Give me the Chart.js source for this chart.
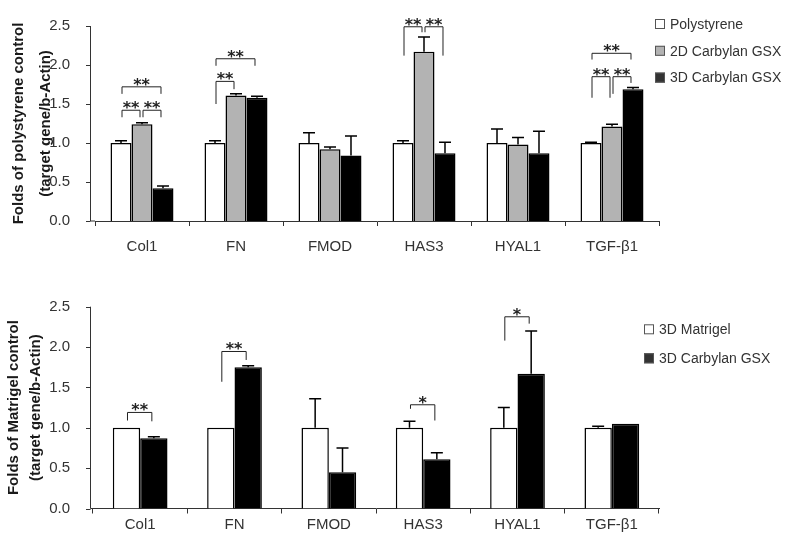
<!DOCTYPE html>
<html>
<head>
<meta charset="utf-8">
<script src="https://cdn.jsdelivr.net/npm/chart.js@4"></script>
<style>
  body { margin: 0; background: #fff; }
  canvas { display: block; }
</style>
</head>
<body>
<canvas id="topChart" width="800" height="270"></canvas>
<canvas id="bottomChart" width="800" height="277"></canvas>
<script>
// genes on the x axis (same for both panels)
var genes = ["Col1", "FN", "FMOD", "HAS3", "HYAL1", "TGF-\u03b21"];
var yTicks = [0, 0.5, 1.0, 1.5, 2.0, 2.5];

// top panel: fold of polystyrene control
var polystyrene = [1.0, 1.0, 1.0, 1.0, 1.0, 1.0];
var polystyreneErr = [0.03, 0.03, 0.13, 0.03, 0.18, 0.01];
var gsx2d = [1.24, 1.61, 0.92, 2.17, 0.98, 1.21];
var gsx2dErr = [0.02, 0.02, 0.03, 0.19, 0.09, 0.03];
var gsx3d = [0.42, 1.58, 0.84, 0.87, 0.87, 1.69];
var gsx3dErr = [0.03, 0.02, 0.25, 0.14, 0.28, 0.02];

// bottom panel: fold of matrigel control
var matrigel = [1.0, 1.0, 1.0, 1.0, 1.0, 1.0];
var matrigelErr = [0, 0, 0.36, 0.08, 0.25, 0.02];
var gsx3dM = [0.87, 1.75, 0.45, 0.61, 1.67, 1.05];
var gsx3dMErr = [0.02, 0.02, 0.30, 0.08, 0.53, 0];

// significance brackets: [gene index, bar a, bar b, bracket y, leg a end, leg b end, label]
var topSig = [
  [0, 0, 1, 1.42, 1.33, 1.33, "**"],
  [0, 1, 2, 1.42, 1.33, 1.33, "**"],
  [0, 0, 2, 1.72, 1.63, 1.63, "**"],
  [1, 0, 1, 1.79, 1.50, 1.69, "**"],
  [1, 0, 2, 2.08, 1.99, 1.99, "**"],
  [3, 0, 1, 2.49, 2.12, 2.42, "**"],
  [3, 1, 2, 2.49, 2.42, 2.12, "**"],
  [5, 0, 1, 1.85, 1.58, 1.58, "**"],
  [5, 1, 2, 1.85, 1.63, 1.77, "**"],
  [5, 0, 2, 2.15, 2.07, 2.07, "**"]
];
var bottomSig = [
  [0, 0, 1, 1.19, 1.09, 1.08, "**"],
  [1, 0, 1, 1.945, 1.57, 1.84, "**"],
  [3, 0, 1, 1.285, 1.235, 1.09, "*"],
  [4, 0, 1, 2.375, 2.08, 2.29, "*"]
];

Chart.defaults.font.family = '"Liberation Sans", Arial, sans-serif';
Chart.defaults.color = "#333";

// error bars, brackets, axis lines and legend
var extras = {
  id: "extras",
  afterDraw: function (chart, args, opts) {
    var ctx = chart.ctx;
    var y = chart.scales.y;
    var area = chart.chartArea;
    ctx.save();

    // y axis line sits a few px left of the first category
    var ax = area.left - opts.axisGap;
    ctx.strokeStyle = "#333";
    ctx.lineWidth = 1;
    ctx.beginPath();
    ctx.moveTo(ax + 0.5, y.getPixelForValue(yTicks[yTicks.length - 1]));
    ctx.lineTo(ax + 0.5, area.bottom);
    ctx.lineTo(area.left, area.bottom);
    yTicks.forEach(function (t) {
      var py = Math.round(y.getPixelForValue(t)) + 0.5;
      ctx.moveTo(ax - 4, py);
      ctx.lineTo(ax + 0.5, py);
    });
    ctx.stroke();

    // error bars (upper only)
    ctx.strokeStyle = "#000";
    ctx.lineWidth = 1.5;
    chart.data.datasets.forEach(function (ds, i) {
      chart.getDatasetMeta(i).data.forEach(function (bar, j) {
        var e = ds.errors[j];
        if (!e) return;
        var top = y.getPixelForValue(ds.data[j] + e);
        ctx.beginPath();
        ctx.moveTo(bar.x, bar.y);
        ctx.lineTo(bar.x, top);
        ctx.moveTo(bar.x - 6, top);
        ctx.lineTo(bar.x + 6, top);
        ctx.stroke();
      });
    });

    // significance brackets
    ctx.strokeStyle = "#222";
    ctx.lineWidth = 1;
    ctx.fillStyle = "#222";
    ctx.font = 'bold 16px "DejaVu Sans", sans-serif';
    ctx.textAlign = "center";
    ctx.textBaseline = "alphabetic";
    opts.brackets.forEach(function (b) {
      var xa = chart.getDatasetMeta(b[1]).data[b[0]].x + 1;
      var xb = chart.getDatasetMeta(b[2]).data[b[0]].x - 2;
      var py = y.getPixelForValue(b[3]);
      ctx.beginPath();
      ctx.moveTo(xa, y.getPixelForValue(b[4]));
      ctx.lineTo(xa, py);
      ctx.lineTo(xb, py);
      ctx.lineTo(xb, y.getPixelForValue(b[5]));
      ctx.stroke();
      ctx.fillText(b[6], (xa + xb) / 2, py + 3);
    });

    // legend
    ctx.font = "14px " + Chart.defaults.font.family;
    ctx.textAlign = "left";
    ctx.textBaseline = "middle";
    chart.data.datasets.forEach(function (ds, i) {
      var ly = opts.legendTop + i * opts.legendStep;
      var lx = area.right + opts.legendDx;
      ctx.fillStyle = ds.backgroundColor === "#000" ? "#333" : ds.backgroundColor;
      ctx.fillRect(lx, ly - 5, 10, 10);
      ctx.strokeStyle = "#555";
      ctx.strokeRect(lx + 0.5, ly - 4.5, 9, 9);
      ctx.fillStyle = "#333";
      ctx.fillText(ds.label, lx + 15, ly + 1);
    });
    ctx.restore();
  }
};

function makeChart(id, datasets, cfg) {
  return new Chart(document.getElementById(id), {
    type: "bar",
    data: { labels: genes, datasets: datasets },
    plugins: [extras],
    options: {
      responsive: false,
      animation: false,
      layout: { padding: { top: cfg.top, right: 141, left: 0, bottom: 0 } },
      datasets: {
        bar: {
          categoryPercentage: cfg.catPct,
          barPercentage: 1.0,
          borderColor: "#000",
          borderWidth: 1.5
        }
      },
      plugins: {
        legend: { display: false },
        tooltip: { enabled: false },
        extras: {
          axisGap: cfg.axisGap,
          brackets: cfg.brackets,
          legendTop: cfg.legendTop,
          legendStep: cfg.legendStep,
          legendDx: cfg.legendDx
        }
      },
      scales: {
        x: {
          afterFit: function (s) { s.height = cfg.xHeight; },
          grid: {
            offset: true,
            drawOnChartArea: false,
            drawTicks: true,
            tickLength: 5,
            color: "#333"
          },
          border: { display: true, color: "#333", width: 1 },
          ticks: { font: { size: 15 }, color: "#333", padding: cfg.xPad }
        },
        y: {
          min: 0,
          max: 2.5,
          afterFit: function (s) { s.width = cfg.yWidth; },
          afterBuildTicks: function (s) {
            s.ticks = yTicks.map(function (v) { return { value: v }; });
          },
          grid: { display: false },
          border: { display: false },
          ticks: {
            font: { size: 15 },
            color: "#333",
            padding: cfg.yPad,
            callback: function (v) { return Number(v).toFixed(1); }
          },
          title: {
            display: true,
            text: cfg.title,
            color: "#1a1a1a",
            font: { size: 15, weight: "bold", lineHeight: cfg.titleLH },
            padding: { top: cfg.titlePad, bottom: 0 }
          }
        }
      }
    }
  });
}

makeChart("topChart", [
  { label: "Polystyrene", data: polystyrene, errors: polystyreneErr, backgroundColor: "#fff" },
  { label: "2D Carbylan GSX", data: gsx2d, errors: gsx2dErr, backgroundColor: "#b3b3b3" },
  { label: "3D Carbylan GSX", data: gsx3d, errors: gsx3dErr, backgroundColor: "#000" }
], {
  top: 18, xHeight: 49, yWidth: 95, axisGap: 5, catPct: 0.67,
  xPad: 12, yPad: 17, brackets: topSig,
  title: ["Folds of polystyrene control", "(target gene/b-Actin)"],
  titleLH: 1.8, titlePad: 5.5,
  legendTop: 24, legendStep: 26.8, legendDx: -4
});

makeChart("bottomChart", [
  { label: "3D Matrigel", data: matrigel, errors: matrigelErr, backgroundColor: "#fff" },
  { label: "3D Carbylan GSX", data: gsx3dM, errors: gsx3dMErr, backgroundColor: "#000" }
], {
  top: 36.7, xHeight: 38.5, yWidth: 93, axisGap: 3, catPct: 0.58,
  xPad: 2.5, yPad: 15, brackets: bottomSig,
  title: ["Folds of Matrigel control", "(target gene/b-Actin)"],
  titleLH: 1.5, titlePad: 2.5,
  legendTop: 59.3, legendStep: 29, legendDx: -15
});
</script>
</body>
</html>
